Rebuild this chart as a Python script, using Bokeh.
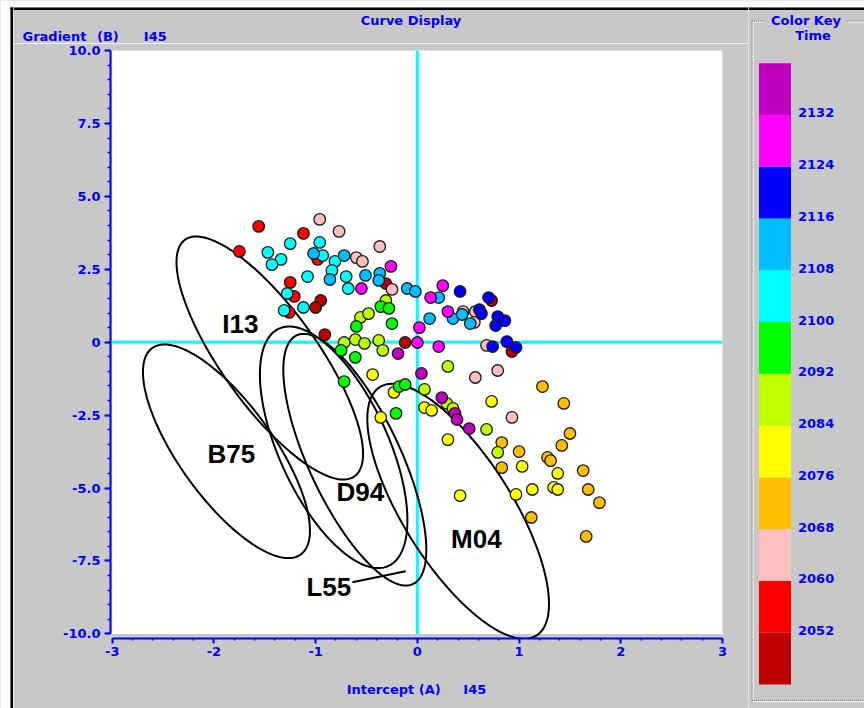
import numpy as np
from bokeh.plotting import figure
from bokeh.layouts import row, column
from bokeh.models import (Range1d, SingleIntervalTicker, CustomJSTickFormatter,
                          BoxAnnotation, ColumnDataSource, LinearColorMapper)
from bokeh.core.properties import value
from bokeh.embed import file_html
from bokeh.resources import INLINE

# ---------------- data ----------------
time_palette = ["#BF0000", "#FF0000", "#FFBFBF", "#FFBF00", "#FFFF00", "#BFFF00",
                "#00FF00", "#00FFFF", "#00BFFF", "#0000FF", "#FF00FF", "#BF00BF"]
time_low, time_high = 2044, 2140
time_ticks = [2052, 2060, 2068, 2076, 2084, 2092, 2100, 2108, 2116, 2124, 2132]

# Intercept (A) / Gradient (B) per time group
t2048_a = [-0.31, -0.95, -1.00, -0.91, -0.12, 0.73, 0.93]
t2048_b = [2.01, 1.43, 1.19, 0.26, -0.01, 1.43, -0.32]
t2056_a = [-1.56, -1.12, -1.75, -0.98, -1.25, -1.21, -1.26]
t2056_b = [3.97, 3.73, 3.11, 2.84, 2.05, 1.57, 1.02]
t2064_a = [-0.96, -0.77, -0.60, -0.54, -0.37, -0.25, 0.45, 0.57, 0.56, 0.68, 0.79, 0.57, 0.93]
t2064_b = [4.21, 3.80, 2.90, 2.77, 3.28, 1.81, 1.05, 1.05, 0.68, -0.11, -0.97, -1.21, -2.58]
t2072_a = [1.23, 1.44, 1.50, 0.83, 1.00, 1.42, 1.28, 1.31, 0.83, 1.63, 1.68, 1.79, 1.12, 1.66]
t2072_b = [-1.52, -2.10, -3.13, -3.44, -3.75, -3.54, -3.95, -4.06, -4.30, -4.40, -5.05, -5.50, -6.01, -6.66]
t2080_a = [-0.44, -0.23, 0.07, 0.14, -0.36, 0.73, 0.30, 1.03, 1.38, 0.97, 1.13, 1.34, 1.38, 0.42]
t2080_b = [-1.11, -1.72, -2.24, -2.34, -2.58, -2.03, -3.34, -4.26, -4.50, -5.22, -5.05, -4.98, -5.05, -5.26]
t2088_a = [-0.31, -0.56, -0.48, -0.72, -0.61, -0.52, -0.38, -0.34, 0.30, 0.07, 0.29, 0.35, 0.68, 0.79]
t2088_b = [1.43, 0.85, 0.98, -0.01, 0.09, -0.04, 0.06, -0.28, -0.83, -1.62, -2.10, -2.27, -2.99, -3.78]
t2096_a = [-0.36, -0.28, -0.60, -0.25, -0.75, -0.61, -0.18, -0.12, -0.72, -0.21]
t2096_b = [1.22, 1.16, 0.54, 0.64, -0.28, -0.52, -1.52, -1.45, -1.35, -2.44]
t2104_a = [-1.25, -0.96, -1.47, -1.34, -1.43, -0.93, -0.81, -0.84, -0.70, -1.08, -1.28, -0.68, -1.12, -1.31]
t2104_b = [3.38, 3.42, 3.08, 2.84, 2.66, 2.97, 2.77, 2.46, 2.25, 2.25, 1.67, 1.84, 1.19, 1.09]
t2112_a = [-1.02, -0.72, -0.86, -0.51, -0.37, -0.38, -0.10, -0.02, 0.21, 0.12, 0.35, 0.44, 0.52]
t2112_b = [3.04, 2.97, 2.15, 2.29, 2.36, 2.12, 1.84, 1.74, 1.53, 0.81, 0.81, 0.95, 0.64]
t2120_a = [0.42, 0.70, 0.61, 0.63, 0.79, 0.86, 0.77, 0.74, 0.88, 0.97]
t2120_b = [1.74, 1.53, 1.12, 0.98, 0.88, 0.74, 0.57, -0.15, 0.02, -0.18]
t2128_a = [-0.26, -0.55, 0.00, 0.02, 0.25, 0.13, 0.30, 0.21]
t2128_b = [2.60, 1.84, -0.01, 0.50, 1.94, 1.53, 1.05, -0.15]
t2136_a = [-0.19, 0.04, 0.24, 0.37, 0.39, 0.51]
t2136_b = [-0.39, -1.07, -1.90, -2.44, -2.65, -2.96]

groups = [(2048, t2048_a, t2048_b), (2056, t2056_a, t2056_b), (2064, t2064_a, t2064_b),
          (2072, t2072_a, t2072_b), (2080, t2080_a, t2080_b), (2088, t2088_a, t2088_b),
          (2096, t2096_a, t2096_b), (2104, t2104_a, t2104_b), (2112, t2112_a, t2112_b),
          (2120, t2120_a, t2120_b), (2128, t2128_a, t2128_b), (2136, t2136_a, t2136_b)]

# Ellipses: centre, half-width in A, and B-offsets (x = cx + w cos t, y = cy + p cos t + q sin t)
ell_names = ["I13", "B75", "D94", "L55", "M04"]
ell_cx = [-1.451, -1.877, -0.823, -0.615, 0.401]
ell_cy = [-0.542, -3.740, -3.603, -4.028, -5.797]
ell_w = [0.917, 0.821, 0.725, 0.703, 0.893]
ell_p = [-3.284, -2.715, -2.500, -3.080, -3.171]
ell_q = [2.563, 2.456, 3.300, 3.020, 3.008]

lbl_text = ["I13", "B75", "D94", "L55", "M04"]
lbl_x = [-1.741, -1.828, -0.561, -0.870, 0.580]
lbl_y = [0.631, -3.826, -5.125, -8.399, -6.740]
pointer_x = [-0.639, -0.115]
pointer_y = [-8.228, -7.851]

x_ticks_interval, y_ticks_interval = 1, 2.5

# ---------------- styles ----------------
GRAY = "#C8C8C8"
BLUE = "#0000FF"
FONT = "DejaVu Sans"

mapper = LinearColorMapper(palette=time_palette, low=time_low, high=time_high)


def bare(w, h, xr, yr):
    return figure(width=w, height=h, x_range=xr, y_range=yr,
                  x_axis_type=None, y_axis_type=None, min_border=0, toolbar_location=None,
                  output_backend="svg", outline_line_color=None,
                  background_fill_color=GRAY, border_fill_color=GRAY)


# ---------------- left strip ----------------
strip = bare(13, 708, Range1d(0, 13), Range1d(708, 0))
strip.quad(left=[0], right=[10], top=[0], bottom=[708], fill_color="white", line_color=None)
strip.quad(left=[10], right=[13], top=[0], bottom=[7], fill_color="white", line_color=None)
strip.quad(left=[10], right=[12.5], top=[7], bottom=[708], fill_color="black", line_color=None)
strip.quad(left=[10], right=[13], top=[7], bottom=[9.5], fill_color="black", line_color=None)

# ---------------- header ----------------
header = bare(735, 43, Range1d(13, 748), Range1d(43, 0))
header.quad(left=[13], right=[748], top=[0], bottom=[7], fill_color="white", line_color=None)
header.quad(left=[13], right=[748], top=[7], bottom=[9.5], fill_color="black", line_color=None)
header.text(x=[410.5], y=[19.5], text=["Curve Display"], text_align="center",
            text_baseline="middle", text_font=value(FONT), text_font_style="bold",
            text_font_size="13px", text_color=BLUE)
header.text(x=[22, 96.5, 143.3], y=[35.5, 35.5, 35.5], text=["Gradient", "(B)", "I45"],
            text_align="left", text_baseline="middle", text_font=value(FONT),
            text_font_style="bold", text_font_size="13px", text_color=BLUE)

# ---------------- main plot ----------------
p = figure(width=735, height=665, x_range=Range1d(-3.017, 3.0), y_range=Range1d(-10.158, 10.0),
           toolbar_location=None, output_backend="svg",
           min_border_left=97, min_border_right=26, min_border_top=7, min_border_bottom=70,
           background_fill_color=GRAY, border_fill_color=GRAY, outline_line_color=None)
p.xgrid.visible = False
p.ygrid.visible = False
p.add_layout(BoxAnnotation(left=-3, right=3, bottom=-10, top=10, fill_color="white",
                           fill_alpha=1.0, line_color=None, level="underlay"))

# axes
xa, ya = p.xaxis[0], p.yaxis[0]
xa.ticker = SingleIntervalTicker(interval=x_ticks_interval, num_minor_ticks=5)
ya.ticker = SingleIntervalTicker(interval=y_ticks_interval, num_minor_ticks=5)
xa.formatter = CustomJSTickFormatter(code="return tick.toFixed(0);")
ya.formatter = CustomJSTickFormatter(code="return Math.abs(tick) < 1e-9 ? '0' : tick.toFixed(1);")
xa.bounds = (-3, 3)
ya.bounds = (-10, 10)
for ax in (xa, ya):
    ax.axis_line_color = BLUE
    ax.axis_line_width = 2
    ax.major_tick_line_color = BLUE
    ax.major_tick_line_width = 2
    ax.minor_tick_line_color = BLUE
    ax.minor_tick_line_width = 1.5
    ax.major_tick_in = 0
    ax.minor_tick_in = 0
    ax.major_label_text_font = FONT
    ax.major_label_text_font_style = "bold"
    ax.major_label_text_font_size = "13px"
    ax.major_label_text_color = BLUE
xa.major_tick_out = 5
xa.minor_tick_out = 2
xa.major_label_standoff = 3
ya.major_tick_out = 6
ya.minor_tick_out = 3
ya.major_label_standoff = 4
xa.axis_label = "Intercept (A)\u00a0\u00a0\u00a0\u00a0\u00a0I45"
xa.axis_label_text_font = FONT
xa.axis_label_text_font_style = "bold"
xa.axis_label_text_font_size = "13px"
xa.axis_label_text_color = BLUE
xa.axis_label_standoff = 23

# cyan zero lines
p.segment(x0=[0, -3], y0=[-10, 0], x1=[0, 3], y1=[10, 0], line_color="#00FFFF", line_width=3)

# ellipses
tt = np.linspace(0, 2 * np.pi, 240)
exs, eys = [], []
for cx, cy, w, pp, qq in zip(ell_cx, ell_cy, ell_w, ell_p, ell_q):
    exs.append(list(cx + w * np.cos(tt)))
    eys.append(list(cy + pp * np.cos(tt) + qq * np.sin(tt)))
p.multi_line(xs=exs, ys=eys, line_color="black", line_width=2)
p.line(x=pointer_x, y=pointer_y, line_color="black", line_width=2)

# points
xs_all, ys_all, ts_all = [], [], []
for t, a, b in groups:
    xs_all += a
    ys_all += b
    ts_all += [t] * len(a)
src = ColumnDataSource(dict(a=xs_all, b=ys_all, time=ts_all))
p.scatter(x="a", y="b", source=src, size=11.5, marker="circle",
          fill_color={"field": "time", "transform": mapper},
          line_color="#1a1a1a", line_width=1.3)

# ellipse labels
p.text(x=lbl_x, y=lbl_y, text=lbl_text, text_align="center", text_baseline="middle",
       text_font=value("Liberation Sans"), text_font_style="bold", text_font_size="26px",
       text_color="black")

# ---------------- color key ----------------
bar_top_px, bar_bot_px = 62.7, 684.0
slope = (time_high - time_low) / (bar_bot_px - bar_top_px)


def ky(py):
    return time_high - (py - bar_top_px) * slope


key = bare(116, 708, Range1d(748, 864), Range1d(ky(708), ky(0)))
key.quad(left=[748], right=[864], top=[ky(0)], bottom=[ky(7)], fill_color="white", line_color=None)
key.quad(left=[748], right=[864], top=[ky(7)], bottom=[ky(9.5)], fill_color="black", line_color=None)

# group box (etched, dotted)
gb_top, gb_bot = ky(20.5), ky(700)
key.segment(x0=[752.5, 752.5, 847, 752.5], y0=[ky(21.5), ky(21.5), ky(21.5), ky(701)],
            x1=[752.5, 765, 864, 864], y1=[ky(701), ky(21.5), ky(21.5), ky(701)],
            line_color="white", line_width=1)
key.segment(x0=[751.5, 751.5, 846, 751.5], y0=[gb_top, gb_top, gb_top, gb_bot],
            x1=[751.5, 765, 864, 864], y1=[gb_bot, gb_top, gb_top, gb_bot],
            line_color="#6e6e6e", line_width=1, line_dash="1 1")

edges = list(range(time_low, time_high, 8))
key.quad(left=758.5, right=790.5, bottom=edges, top=[e + 8 for e in edges],
         fill_color=[time_palette[i] for i in range(len(edges))], line_color=None)
key.text(x=[797.5] * len(time_ticks), y=time_ticks, text=[str(t) for t in time_ticks],
         text_align="left", text_baseline="middle", y_offset=-2,
         text_font=value(FONT), text_font_style="bold", text_font_size="13px", text_color=BLUE)
key.text(x=[805.5, 812.5], y=[ky(19.5), ky(35)], text=["Color Key", "Time"],
         text_align="center", text_baseline="middle",
         text_font=value(FONT), text_font_style="bold", text_font_size="13px", text_color=BLUE)

middle = column(row(header, spacing=0), row(p, spacing=0), spacing=0)
layout = row(strip, middle, key, spacing=0)

open("out.html", "w").write(file_html(layout, INLINE))
